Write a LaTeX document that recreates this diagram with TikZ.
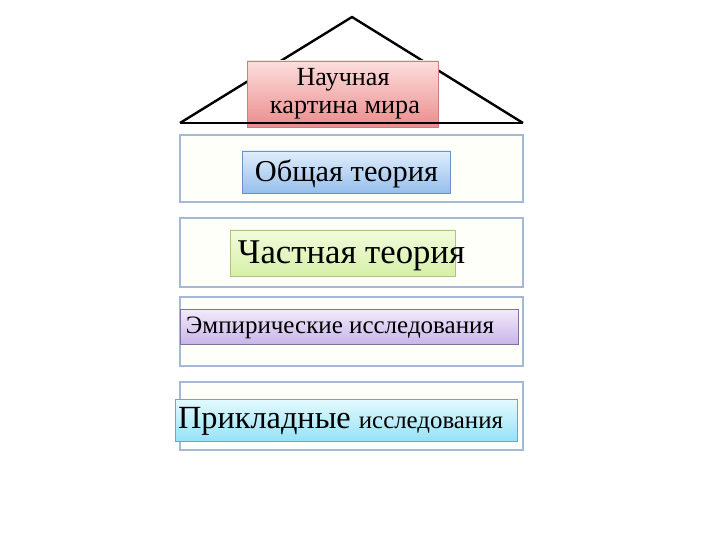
\documentclass[tikz,border=0pt]{standalone}
\usepackage{fontspec}
\setmainfont{Liberation Serif}
\usetikzlibrary{positioning}
\definecolor{rowline}{RGB}{165,185,215}
\definecolor{rowfill}{RGB}{255,255,249}
\tikzset{
  rowbox/.style={draw=rowline, line width=1.6pt, fill=rowfill},
  labbox/.style={line width=0.6pt, inner sep=0pt},
  pinkbox/.style={labbox, draw={rgb,255:red,205;green,125;blue,125}, top color={rgb,255:red,252;green,222;blue,222}, bottom color={rgb,255:red,236;green,140;blue,140}},
  bluebox/.style={labbox, draw={rgb,255:red,110;green,145;blue,195}, top color={rgb,255:red,225;green,238;blue,252}, bottom color={rgb,255:red,150;green,190;blue,236}},
  greenbox/.style={labbox, draw={rgb,255:red,175;green,195;blue,135}, top color={rgb,255:red,242;green,251;blue,220}, bottom color={rgb,255:red,214;green,240;blue,168}},
  purplebox/.style={labbox, draw={rgb,255:red,125;green,115;blue,155}, top color={rgb,255:red,243;green,234;blue,252}, bottom color={rgb,255:red,200;green,182;blue,232}},
  cyanbox/.style={labbox, draw={rgb,255:red,105;green,170;blue,190}, top color={rgb,255:red,228;green,250;blue,255}, bottom color={rgb,255:red,150;green,226;blue,246}},
  txt/.style={inner sep=0pt, anchor=center}
}
\begin{document}
\begin{tikzpicture}[x=1pt,y=-1pt]
\useasboundingbox (0,0) rectangle (720,540);
% roof
\coordinate (apex) at (352,17);
\coordinate (bl) at (180,123);
\coordinate (br) at (523,123);
\draw[line width=2.4pt, line join=round] (bl) -- (apex) -- (br);
% rows
\draw[rowbox] (180,135) rectangle (523,202);
\draw[rowbox] (180,218) rectangle (523,287);
\draw[rowbox] (180,297) rectangle (523,366);
\draw[rowbox] (180,382) rectangle (523,450);
% colored boxes
\draw[pinkbox] (247,61) rectangle (438,127);
\draw[line width=2.4pt] (bl) -- (br);
\draw[bluebox] (242,151) rectangle (450,193);
\draw[greenbox] (230,230) rectangle (455,276);
\draw[purplebox] (180,309) rectangle (518,344);
\draw[cyanbox] (175,399) rectangle (517,441);
% texts
\node[txt] (t1) at (343,80) {\resizebox{93pt}{!}{Научная}};
\node[txt] (t2) at (345,110) {\resizebox{150pt}{!}{картина мира}};
\node[txt] (t3) at (346.5,174) {\resizebox{183pt}{!}{Общая теория}};
\node[txt] (t4) at (351.5,256) {\resizebox{227pt}{!}{Частная теория}};
\node[txt] (t5) at (340,328) {\resizebox{308pt}{!}{Эмпирические исследования}};
\node[txt] (t6) at (340.5,421) {\resizebox{325pt}{!}{\fontsize{26}{30}\selectfont Прикладные \fontsize{20}{24}\selectfont исследования}};
\end{tikzpicture}
\end{document}
